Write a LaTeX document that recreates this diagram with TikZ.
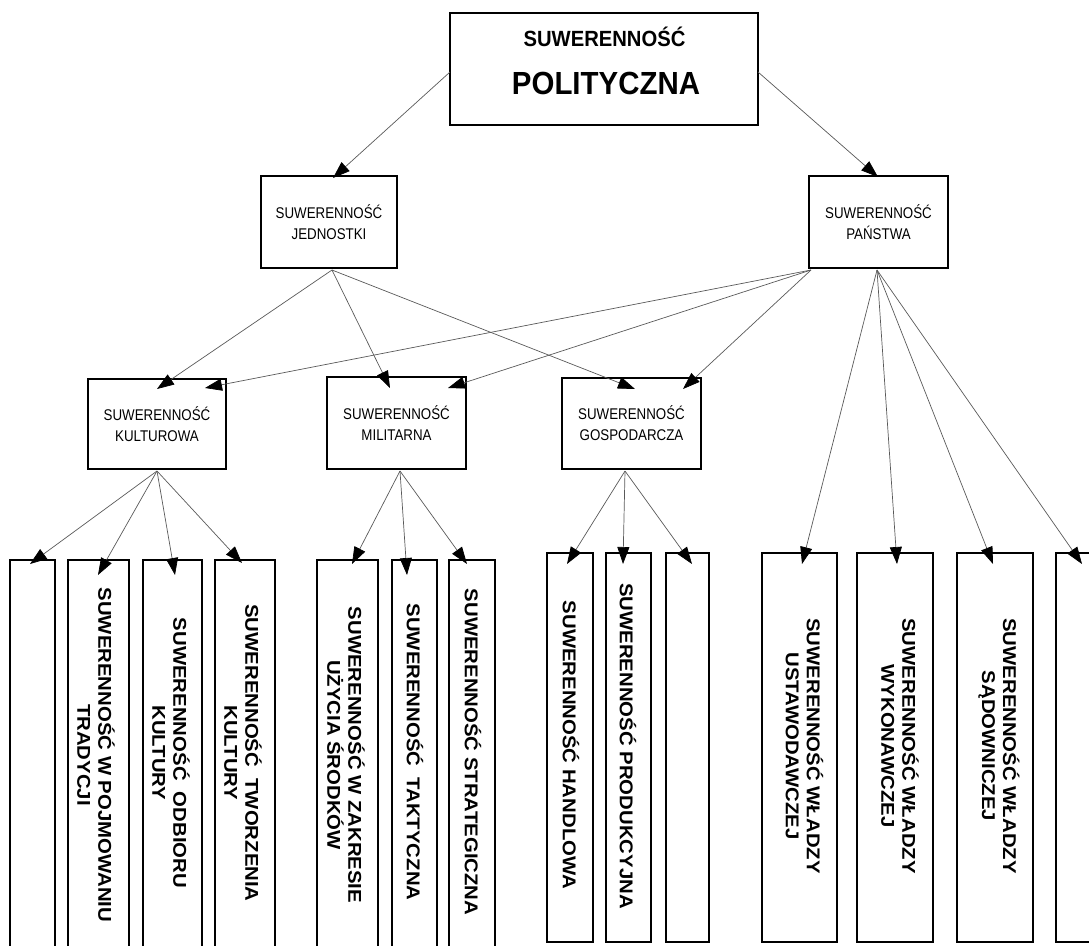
\documentclass[tikz,border=0pt]{standalone}
\usepackage{fontspec}
\setmainfont{Liberation Sans}
\usetikzlibrary{arrows.meta,calc}
\newcommand{\hsq}[2]{\scalebox{#1}[1]{#2}}
\newcommand{\mtx}[1]{\hsq{0.86}{#1}}
\newcommand{\vtx}[1]{\hsq{1.1}{#1}}
\begin{document}
\begin{tikzpicture}[x=1pt,y=-1pt,
  box/.style={draw=black, line width=1.2pt, fill=white, inner sep=0pt, outer sep=0pt, align=center},
  midtxt/.style={font=\fontsize{15.5}{21}\selectfont},
  vtxt/.style={rotate=-90, align=center, font=\fontsize{18.5}{21}\selectfont\bfseries, inner sep=0pt},
  conn/.style={draw=black!65, line width=0.7pt, -{Triangle[length=17pt,width=12pt,color=black]}},
]
\useasboundingbox (0,0) rectangle (1089,945);
\clip (0,0) rectangle (1089,945);

% top box
\node[box, minimum width=308pt, minimum height=112pt] (top) at (604,69) {};
\node[font=\fontsize{22}{26}\selectfont\bfseries, inner sep=0pt] (toptxta) at (604.5,37) {\hsq{0.92}{SUWERENNOŚĆ}};
\node[font=\fontsize{32}{38}\selectfont\bfseries, inner sep=0pt] (toptxtb) at (606,83) {\hsq{0.92}{POLITYCZNA}};

% second level
\node[box, midtxt, minimum width=136pt, minimum height=92pt] (jed) at (329,222) {\mtx{SUWERENNOŚĆ}\\\mtx{JEDNOSTKI}};
\node[box, midtxt, minimum width=139pt, minimum height=92pt] (pan) at (878.5,222) {\mtx{SUWERENNOŚĆ}\\\mtx{PAŃSTWA}};

% third level
\node[box, midtxt, minimum width=138pt, minimum height=90pt] (kult) at (157,424) {\mtx{SUWERENNOŚĆ}\\\mtx{KULTUROWA}};
\node[box, midtxt, minimum width=139pt, minimum height=92pt] (mil) at (396.5,423) {\mtx{SUWERENNOŚĆ}\\\mtx{MILITARNA}};
\node[box, midtxt, minimum width=139pt, minimum height=91pt] (gosp) at (631.5,423.5) {\mtx{SUWERENNOŚĆ}\\\mtx{GOSPODARCZA}};

% bottom boxes
\node[box, minimum width=45pt, minimum height=405pt] (b1) at (32.5,762.5) {};
\node[box, minimum width=61pt, minimum height=405pt] (b2) at (98.5,762.5) {};
\node[box, minimum width=59pt, minimum height=405pt] (b3) at (172.5,762.5) {};
\node[box, minimum width=60pt, minimum height=405pt] (b4) at (245,762.5) {};
\node[box, minimum width=61pt, minimum height=405pt] (b5) at (347.5,762.5) {};
\node[box, minimum width=45pt, minimum height=405pt] (b6) at (414.5,762.5) {};
\node[box, minimum width=46pt, minimum height=405pt] (b7) at (472,762.5) {};
\node[box, minimum width=46pt, minimum height=389pt] (b8) at (570,747.5) {};
\node[box, minimum width=45pt, minimum height=389pt] (b9) at (628.5,747.5) {};
\node[box, minimum width=43pt, minimum height=389pt] (b10) at (687.5,747.5) {};
\node[box, minimum width=75pt, minimum height=389pt] (b11) at (799.5,747.5) {};
\node[box, minimum width=76pt, minimum height=389pt] (b12) at (895,747.5) {};
\node[box, minimum width=76pt, minimum height=389pt] (b13) at (995,747.5) {};
\node[box, minimum width=54pt, minimum height=389pt] (b14) at (1083,747.5) {};

% vertical texts
\node[vtxt] (t2) at (96,755) {\vtx{SUWERENNOŚĆ W POJMOWANIU}\\\vtx{TRADYCJI}};
\node[vtxt] (t3) at (171,753) {\vtx{SUWERENNOŚĆ \ ODBIORU}\\\vtx{KULTURY}};
\node[vtxt] (t4) at (243,753) {\vtx{SUWERENNOŚĆ \ TWORZENIA}\\\vtx{KULTURY}};
\node[vtxt] (t5) at (346,755) {\vtx{SUWERENNOŚĆ W ZAKRESIE}\\\vtx{UŻYCIA ŚRODKÓW}};
\node[vtxt] (t6) at (415,752) {\vtx{SUWERENNOŚĆ \ TAKTYCZNA}};
\node[vtxt] (t7) at (473,752) {\vtx{SUWERENNOŚĆ STRATEGICZNA}};
\node[vtxt] (t8) at (571,745) {\vtx{SUWERENNOŚĆ HANDLOWA}};
\node[vtxt] (t9) at (628,746) {\vtx{SUWERENNOŚĆ PRODUKCYJNA}};
\node[vtxt] (t11) at (804.5,746) {\vtx{SUWERENNOŚĆ WŁADZY}\\\vtx{USTAWODAWCZEJ}};
\node[vtxt] (t12) at (900,746) {\vtx{SUWERENNOŚĆ WŁADZY}\\\vtx{WYKONAWCZEJ}};
\node[vtxt] (t13) at (999,746) {\vtx{SUWERENNOŚĆ WŁADZY}\\\vtx{SĄDOWNICZEJ}};

% connectors: top level
\draw[conn] ($(top.west)+(0,3)$) -- ($(jed.north west)+(72,2)$);
\draw[conn] ($(top.east)+(0,3)$) -- ($(pan.north west)+(69,1)$);

% from jednostki
\draw[conn] ($(jed.south west)+(71,2)$) -- ($(kult.north west)+(69,10)$);
\draw[conn] ($(jed.south west)+(71,2)$) -- ($(mil.north west)+(63,11)$);
\draw[conn] ($(jed.south west)+(71,2)$) -- ($(gosp.north west)+(73,11)$);

% from panstwa
\draw[conn] ($(pan.south west)+(2,2)$) -- ($(kult.north west)+(117,9)$);
\draw[conn] ($(pan.south west)+(2,2)$) -- ($(mil.north west)+(121,11)$);
\draw[conn] ($(pan.south west)+(2,2)$) -- ($(gosp.north west)+(121,11)$);
\draw[conn] ($(pan.south west)+(68,2)$) -- ($(b11.north west)+(40,11)$);
\draw[conn] ($(pan.south west)+(68,2)$) -- ($(b12.north west)+(40,11)$);
\draw[conn] ($(pan.south west)+(68,2)$) -- ($(b13.north west)+(36,11)$);
\draw[conn] ($(pan.south west)+(68,2)$) -- ($(b14.north west)+(26,11)$);

% from kulturowa
\draw[conn] ($(kult.south west)+(69,2)$) -- ($(b1.north west)+(20,4)$);
\draw[conn] ($(kult.south west)+(69,2)$) -- ($(b2.north west)+(30,15)$);
\draw[conn] ($(kult.south west)+(69,2)$) -- ($(b3.north west)+(32,15)$);
\draw[conn] ($(kult.south west)+(69,2)$) -- ($(b4.north west)+(27,3)$);

% from militarna
\draw[conn] ($(mil.south west)+(73,2)$) -- ($(b5.north west)+(35,4)$);
\draw[conn] ($(mil.south west)+(73,2)$) -- ($(b6.north west)+(15,15)$);
\draw[conn] ($(mil.south west)+(73,2)$) -- ($(b7.north west)+(18,4)$);

% from gospodarcza
\draw[conn] ($(gosp.south west)+(63,2)$) -- ($(b8.north west)+(20,11)$);
\draw[conn] ($(gosp.south west)+(63,2)$) -- ($(b9.north west)+(17,11)$);
\draw[conn] ($(gosp.south west)+(63,2)$) -- ($(b10.north west)+(26,11)$);
\end{tikzpicture}
\end{document}
